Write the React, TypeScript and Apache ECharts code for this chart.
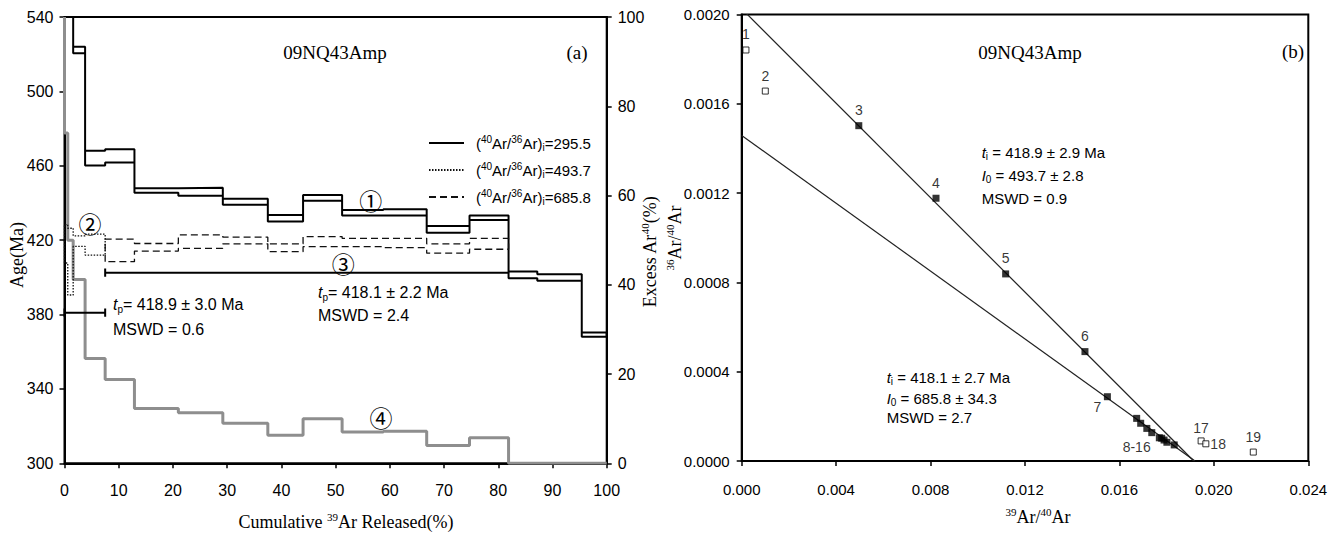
import React, { useEffect, useRef } from "react";
import * as echarts from "echarts";

// ---------- Panel (a): age spectrum ----------
// heating-step boundaries, cumulative 39Ar released (%)
const stepBounds = [0, 0.6, 1.6, 3.8, 7.5, 12.9, 21.0, 29.2, 37.5, 44.0, 51.2, 58.8, 66.8, 74.7, 81.9, 87.2, 95.4, 100];
// (40Ar/36Ar)i = 295.5 ages (Ma), upper / lower error envelope, one per step
const age295Hi = [620, 610, 524.0, 468.1, 468.9, 447.9, 448.2, 442.2, 433.5, 444.3, 436.2, 436.6, 427.6, 433.2, 403.1, 401.7, 370.3];
const age295Lo = [600, 590, 520.5, 460.1, 461.7, 445.5, 443.9, 439.1, 430.0, 441.2, 433.2, 433.2, 424.0, 430.9, 399.5, 398.1, 368.1];
// (40Ar/36Ar)i = 493.7 ages, steps 1-4 (0 - 7.5 %)
const age4937Hi = [428.4, 426.4, 422.3, 423.2];
const age4937Lo = [407.7, 390.5, 416.6, 412.0];
// (40Ar/36Ar)i = 685.8 ages, steps 5-14 (7.5 - 81.9 %)
const age6858Hi = [420.5, 418.2, 422.8, 421.6, 418.0, 421.9, 421.0, 421.0, 418.0, 421.0];
const age6858Lo = [408.4, 414.1, 415.6, 418.0, 413.8, 416.5, 416.5, 416.0, 413.0, 415.1];
// excess 40Ar (%) per step, starting value at 0 %
const excessStart = 100;
const excessAr = [74, 50, 41.2, 23.5, 18.8, 12.3, 11.3, 9.0, 6.3, 10.0, 7.0, 7.2, 4.0, 5.7, 0, 0, 0];
// plateau bars: ranges (%) and drawn age level (Ma)
const plateauRanges = [[0, 7.5], [7.5, 81.9]];
const plateauBarAge = [381, 402.5];
const seriesNames = ["(40Ar/36Ar)i=295.5", "(40Ar/36Ar)i=493.7", "(40Ar/36Ar)i=685.8"];

// ---------- Panel (b): inverse isochron ----------
const ptX = [0.00018, 0.00100, 0.00496, 0.00823, 0.01118, 0.01454, 0.01549, 0.01673, 0.01690, 0.01716, 0.01737, 0.01769, 0.01779, 0.01789, 0.01801, 0.01832, 0.01946, 0.01966, 0.02167];
const ptY = [0.001841, 0.001657, 0.001502, 0.001177, 0.000838, 0.000490, 0.000288, 0.000191, 0.000169, 0.000146, 0.000127, 0.000104, 0.000102, 0.000094, 0.000084, 0.000072, 0.000090, 0.000077, 0.000040];
const ptLabel = ["1", "2", "3", "4", "5", "6", "7", "8-16", "", "", "", "", "", "", "", "", "17", "18", "19"];
const ptUsed = [false, false, true, true, true, true, true, true, true, true, true, true, true, true, true, true, false, false, false];
const isoI0 = [493.7, 685.8];
const isoXInt = [0.01915, 0.0192];

const sans = "'Liberation Sans', Arial, sans-serif";
const serif = "'Liberation Serif', 'Times New Roman', serif";
const cjk = "'Noto Sans CJK SC', 'DejaVu Sans', sans-serif";

function boxOutline(b: number[], hi: number[], lo: number[]) {
  const pts: number[][] = [];
  const n = hi.length;
  pts.push([b[0], lo[0]]);
  for (let i = 0; i < n; i++) {
    pts.push([b[i], hi[i]]);
    pts.push([b[i + 1], hi[i]]);
  }
  for (let i = n - 1; i >= 0; i--) {
    pts.push([b[i + 1], lo[i]]);
    pts.push([b[i], lo[i]]);
  }
  return pts;
}

function stairs(b: number[], v: number[], start: number) {
  const pts: number[][] = [[b[0], start]];
  for (let i = 0; i < v.length; i++) {
    pts.push([b[i], v[i]]);
    pts.push([b[i + 1], v[i]]);
  }
  return pts;
}

const labelPlacement: Record<string, any> = {
  "7": { position: "bottom", offset: [-10, -5] },
  "8-16": { position: "bottom", distance: 18 },
  "17": { position: "top", distance: 2 },
  "18": { position: "right", distance: 1 },
};

export default function App() {
  const ref = useRef<HTMLDivElement>(null);
  useEffect(() => {
    if (!ref.current) return;
    const chart = echarts.init(ref.current, undefined, { renderer: "svg" });

    const axisLine = { show: true, onZero: false, lineStyle: { color: "#000", width: 2 } };
    const axisTick = { show: true, inside: false, length: 5, lineStyle: { color: "#000", width: 1.5 } };
    const lbl = (size: number, margin: number, fmt?: (v: number) => string) => ({
      color: "#000", fontFamily: sans, fontSize: size, margin, formatter: fmt,
    });

    const supRich = (size: number, fam: string) => ({
      n: { fontFamily: fam, fontSize: size, lineHeight: size + 4, fill: "#000", color: "#000" },
      s: { fontFamily: fam, fontSize: Math.round(size * 0.6), lineHeight: Math.round(size * 0.6), verticalAlign: "top", fill: "#000", color: "#000" },
    });
    const subRich = (size: number) => ({
      n: { fontFamily: sans, fontSize: size, lineHeight: size + 4, fill: "#000", color: "#000" },
      it: { fontFamily: sans, fontSize: size, fontStyle: "italic", lineHeight: size + 4, fill: "#000", color: "#000" },
      sub: { fontFamily: sans, fontSize: Math.round(size * 0.65), lineHeight: Math.round(size * 0.65), verticalAlign: "bottom", fill: "#000", color: "#000" },
    });

    const legendRich = {
      p: { fontFamily: sans, fontSize: 15, lineHeight: 18, color: "#000" },
      p0: { fontFamily: sans, fontSize: 15, lineHeight: 18, color: "#000", padding: [0, 0, 0, 7] },
      s: { fontFamily: sans, fontSize: 10, lineHeight: 10, verticalAlign: "top", color: "#000" },
      b: { fontFamily: sans, fontSize: 10, lineHeight: 10, verticalAlign: "bottom", color: "#000" },
    };

    const txt = (x: number, y: number, text: string, rich: any, align = "left", rotation = 0) => ({
      type: "text", x, y, rotation, silent: true,
      style: { text, rich, align, verticalAlign: "middle", fill: "#000" },
    });
    const plain = (x: number, y: number, text: string, font: string, size: number, align = "center") => ({
      type: "text", x, y, silent: true,
      style: { text, fontFamily: font, fontSize: size, align, verticalAlign: "middle", fill: "#000" },
    });

    const isoLines = isoI0.map((i0, k) => ({
      type: "line", xAxisIndex: 1, yAxisIndex: 2, symbol: "none", silent: true,
      data: [[0, 1 / i0], [isoXInt[k], 0]],
      lineStyle: { color: "#222", width: 1.2 }, z: 2,
    }));

    const mkPts = (used: boolean) =>
      ptX.map((x, i) => {
        if (ptUsed[i] !== used) return null;
        const lab = ptLabel[i];
        const item: any = { value: [x, ptY[i]] };
        if (lab) {
          const pl = labelPlacement[lab] || { position: "top" };
          item.label = { show: true, formatter: lab, fontFamily: sans, fontSize: 14, color: "#000", ...pl };
        }
        return item;
      }).filter((d) => d !== null);

    const caps: any[] = [];
    plateauRanges.forEach((r, k) => {
      const ends = k === 0 ? [r[0], r[1]] : [r[0]];
      ends.forEach((x) =>
        caps.push({
          type: "line", xAxisIndex: 0, yAxisIndex: 0, symbol: "none", silent: true,
          data: [[x, plateauBarAge[k] - 2.2], [x, plateauBarAge[k] + 2.2]],
          lineStyle: { color: "#000", width: 2 },
        })
      );
    });

    const option: any = {
      animation: false,
      backgroundColor: "#fff",
      grid: [
        { left: 64.5, top: 17, width: 542.2, height: 446.3, show: true, borderColor: "#000", borderWidth: 2, backgroundColor: "transparent", containLabel: false, outerBoundsMode: "none" },
        { left: 741.7, top: 14.5, width: 566.6, height: 446.5, show: true, borderColor: "#000", borderWidth: 2, backgroundColor: "transparent", containLabel: false, outerBoundsMode: "none" },
      ],
      xAxis: [
        { type: "value", gridIndex: 0, min: 0, max: 100, interval: 10, axisLine, axisTick, splitLine: { show: false }, axisLabel: lbl(16, 19) },
        { type: "value", gridIndex: 1, min: 0, max: 0.024, interval: 0.004, axisLine, axisTick, splitLine: { show: false }, axisLabel: lbl(15, 21, (v) => v.toFixed(3)) },
      ],
      yAxis: [
        { type: "value", gridIndex: 0, position: "left", min: 300, max: 540, interval: 40, axisLine, axisTick, splitLine: { show: false }, axisLabel: lbl(16, 11) },
        { type: "value", gridIndex: 0, position: "right", min: 0, max: 100, interval: 20, axisLine, axisTick, splitLine: { show: false }, axisLabel: lbl(16, 11) },
        { type: "value", gridIndex: 1, position: "left", min: 0, max: 0.002, interval: 0.0004, axisLine, axisTick, splitLine: { show: false }, axisLabel: lbl(15, 12, (v) => v.toFixed(4)) },
      ],
      legend: {
        data: seriesNames, orient: "vertical", left: 428, top: 134, padding: 0, itemWidth: 35, itemHeight: 12, itemGap: 9,
        selectedMode: false,
        itemStyle: { color: "rgba(0,0,0,0)", borderColor: "rgba(0,0,0,0)", borderWidth: 0, opacity: 0 },
        textStyle: { fontFamily: sans, fontSize: 15, color: "#000", rich: legendRich },
        formatter: (name: string) => {
          const v = name.split("=")[1];
          return `{p0|(}{s|40}{p|Ar/}{s|36}{p|Ar)}{b|i}{p|=${v}}`;
        },
      },
      series: [
        { name: seriesNames[0], type: "line", xAxisIndex: 0, yAxisIndex: 0, symbol: "none", silent: true, data: boxOutline(stepBounds, age295Hi, age295Lo), lineStyle: { color: "#000", width: 2 }, itemStyle: { color: "#000" }, z: 4 },
        { name: seriesNames[1], type: "line", xAxisIndex: 0, yAxisIndex: 0, symbol: "none", silent: true, data: boxOutline(stepBounds.slice(0, 5), age4937Hi, age4937Lo), lineStyle: { color: "#111", width: 1.3, type: [1.5, 1.5] }, itemStyle: { color: "#111" }, z: 5 },
        { name: seriesNames[2], type: "line", xAxisIndex: 0, yAxisIndex: 0, symbol: "none", silent: true, data: boxOutline(stepBounds.slice(4, 15), age6858Hi, age6858Lo), lineStyle: { color: "#111", width: 1.3, type: [7, 4] }, itemStyle: { color: "#111" }, z: 4 },
        { name: "Excess Ar40", type: "line", xAxisIndex: 0, yAxisIndex: 1, symbol: "none", silent: true, data: stairs(stepBounds, excessAr, excessStart), lineStyle: { color: "#8e8e8e", width: 3 }, z: 3 },
        ...plateauRanges.map((r, k) => ({
          type: "line", xAxisIndex: 0, yAxisIndex: 0, symbol: "none", silent: true,
          data: [[r[0], plateauBarAge[k]], [r[1], plateauBarAge[k]]],
          lineStyle: { color: "#000", width: 2 },
        })),
        ...caps,
        ...isoLines,
        { name: "excluded", type: "scatter", xAxisIndex: 1, yAxisIndex: 2, symbol: "rect", symbolSize: 6, silent: true, data: mkPts(false), itemStyle: { color: "#fff", borderColor: "#000", borderWidth: 1 }, z: 5 },
        { name: "used", type: "scatter", xAxisIndex: 1, yAxisIndex: 2, symbol: "rect", symbolSize: 7, silent: true, data: mkPts(true), itemStyle: { color: "#000" }, z: 5 },
      ],
      graphic: [
        plain(335, 52, "09NQ43Amp", serif, 19),
        plain(577, 52, "(a)", serif, 19),
        plain(1030, 52, "09NQ43Amp", serif, 19),
        plain(1293, 51, "(b)", serif, 19),
        plain(370.7, 200, "①", cjk, 23),
        plain(90, 222.7, "②", cjk, 23),
        plain(343.3, 262.7, "③", cjk, 23),
        plain(381, 416.7, "④", cjk, 23),
        txt(113, 304, "{it|t}{sub|p}{n|= 418.9 ± 3.0 Ma}", subRich(16)),
        txt(113, 329, "{n|MSWD = 0.6}", subRich(16)),
        txt(318, 292, "{it|t}{sub|p}{n|= 418.1 ± 2.2 Ma}", subRich(16)),
        txt(318, 315, "{n|MSWD = 2.4}", subRich(16)),
        txt(981.7, 152, "{it|t}{sub|i}{n| = 418.9 ± 2.9 Ma}", subRich(15)),
        txt(981.7, 175, "{it|I}{sub|0}{n| = 493.7 ± 2.8}", subRich(15)),
        txt(981.7, 198, "{n|MSWD = 0.9}", subRich(15)),
        txt(886.7, 377, "{it|t}{sub|i}{n| = 418.1 ± 2.7 Ma}", subRich(15)),
        txt(886.7, 398, "{it|I}{sub|0}{n| = 685.8 ± 34.3}", subRich(15)),
        txt(886.7, 417, "{n|MSWD = 2.7}", subRich(15)),
        txt(17, 255, "{n|Age(Ma)}", supRich(18, serif), "center", Math.PI / 2),
        txt(650, 252, "{n|Excess Ar}{s|40}{n|(%)}", supRich(18, serif), "center", Math.PI / 2),
        txt(346, 522, "{n|Cumulative }{s|39}{n|Ar Released(%)}", supRich(18, serif), "center"),
        txt(675, 238, "{s|36}{n|Ar/}{s|40}{n|Ar}", supRich(18, serif), "center", Math.PI / 2),
        txt(1038, 517, "{s|39}{n|Ar/}{s|40}{n|Ar}", supRich(18, serif), "center"),
      ],
    };

    chart.setOption(option);
    return () => chart.dispose();
  }, []);

  return <div ref={ref} style={{ position: "absolute", left: 0, top: 0, width: 1341, height: 535 }} />;
}
